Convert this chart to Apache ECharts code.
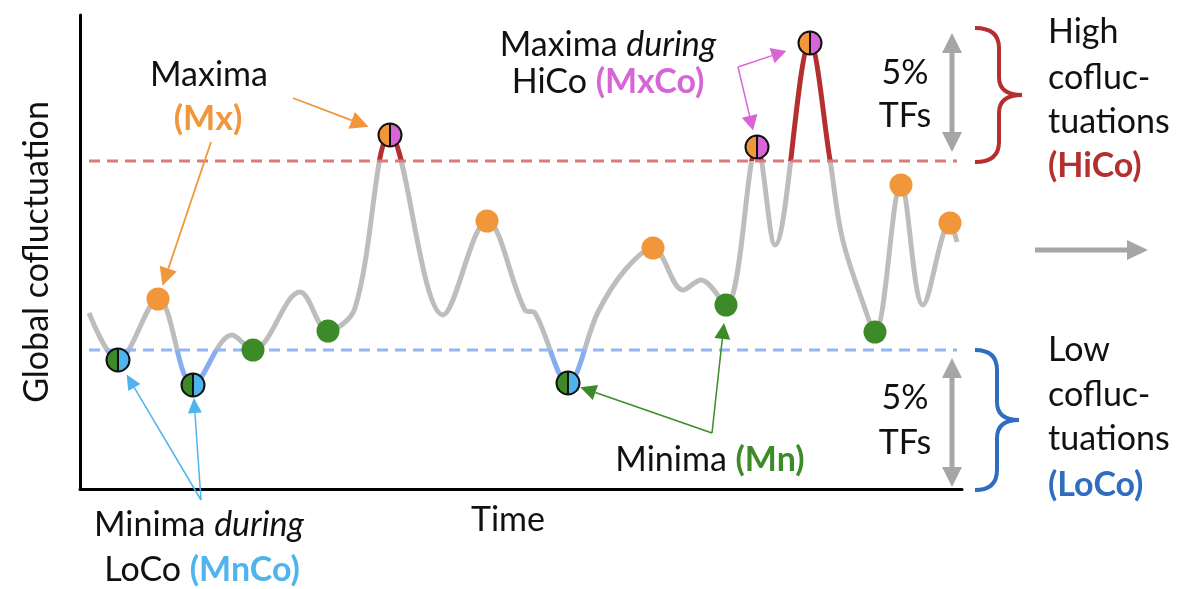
<!DOCTYPE html>
<html><head><meta charset="utf-8">
<script src="https://cdn.jsdelivr.net/npm/echarts@6/dist/echarts.min.js"></script>
<style>html,body{margin:0;padding:0;background:#fff}#c{width:1177px;height:589px}</style>
</head><body><div id="c"></div>
<script>
// ---- data (arbitrary units) ----
const time = [11,40,80,115,154,175,222,250,277,312,365,409,447,457,490,520,547,575,605,623,648,679,697,732,752,764,785,797,823,845,872,879];
const cofluctuation = [175,128,189,103,153,138,196,157,180,353,173,267,178,175,105,176,218,240,198,208,183,341,243,445,328,251,185,156,303,183,265,246];
const maximaIdx = [2,11,17,28,30];        // Mx
const maximaHiCoIdx = [9,21,23];          // MxCo
const minimaIdx = [5,7,20,27];            // Mn
const minimaLoCoIdx = [1,3,14];           // MnCo
const highThreshold = [327];
const lowThreshold = [138];

const ORANGE = '#f1963b', PINK = '#d865d6', GREEN = '#3d8b28', LBLUE = '#4fb4ee';
const FONT = 'Lato, "Open Sans", sans-serif';

const chart = echarts.init(document.getElementById('c'), null, {renderer: 'canvas'});
const pts = idx => idx.map(i => [time[i], cofluctuation[i]]);
const halfRender = (lc, rc) => (params, api) => {
  const p = api.coord([api.value(0), api.value(1)]);
  const r = 11.5;
  return {type: 'group', children: [
    {type: 'sector', shape: {cx: p[0], cy: p[1], r: r, startAngle: Math.PI/2, endAngle: Math.PI*3/2}, style: {fill: lc}},
    {type: 'sector', shape: {cx: p[0], cy: p[1], r: r, startAngle: -Math.PI/2, endAngle: Math.PI/2}, style: {fill: rc}},
    {type: 'circle', shape: {cx: p[0], cy: p[1], r: r}, style: {fill: null, stroke: '#111', lineWidth: 2}},
    {type: 'line', shape: {x1: p[0], y1: p[1]-r, x2: p[0], y2: p[1]+r}, style: {stroke: '#111', lineWidth: 2}}
  ]};
};
const last = time.length - 1;

chart.setOption({
  animation: false,
  grid: {left: 80, right: 215, top: 15, bottom: 100},
  xAxis: {type: 'value', min: 2, max: 884, axisLine: {onZero: false, lineStyle: {color: '#000', width: 3}},
          axisTick: {show: false}, axisLabel: {show: false}, splitLine: {show: false}},
  yAxis: {type: 'value', min: -1, max: 473, axisLine: {show: true, onZero: false, lineStyle: {color: '#000', width: 3}},
          axisTick: {show: false}, axisLabel: {show: false}, splitLine: {show: false}},
  visualMap: {show: false, type: 'piecewise', seriesIndex: 0, dimension: 1,
    pieces: [{lt: lowThreshold[0], color: '#86adf0'}, {gte: lowThreshold[0], lte: highThreshold[0], color: '#bdbdbd'}, {gt: highThreshold[0], color: '#b3302e'}]},
  series: [
    {type: 'line', data: time.map((t, i) => [t, cofluctuation[i]]), smooth: 0.35, showSymbol: false, silent: true,
     lineStyle: {width: 5}, z: 2},
    {type: 'line', data: [[time[0], highThreshold[0]], [time[last], highThreshold[0]]], showSymbol: false, silent: true,
     lineStyle: {color: '#d97a7d', width: 3, type: [11, 7]}, z: 3},
    {type: 'line', data: [[time[0], lowThreshold[0]], [time[last], lowThreshold[0]]], showSymbol: false, silent: true,
     lineStyle: {color: '#93b6f3', width: 3, type: [11, 7]}, z: 3},
    {type: 'scatter', data: pts(maximaIdx), symbolSize: 23, itemStyle: {color: ORANGE, opacity: 1}, z: 5},
    {type: 'scatter', data: pts(minimaIdx), symbolSize: 23, itemStyle: {color: GREEN, opacity: 1}, z: 5},
    {type: 'custom', data: pts(maximaHiCoIdx), renderItem: halfRender(ORANGE, PINK), z: 6},
    {type: 'custom', data: pts(minimaLoCoIdx), renderItem: halfRender(GREEN, LBLUE), z: 6}
  ]
});

// ---- annotations ----
const P = i => chart.convertToPixel({gridIndex: 0}, [time[i], cofluctuation[i]]);
function arrow(tail, target, gap, color, lw, hl, hw) {
  const dx = target[0]-tail[0], dy = target[1]-tail[1], L = Math.hypot(dx, dy);
  const ux = dx/L, uy = dy/L;
  const tip = [target[0]-ux*gap, target[1]-uy*gap];
  const base = [tip[0]-ux*hl, tip[1]-uy*hl];
  return [
    {type: 'line', shape: {x1: tail[0], y1: tail[1], x2: base[0], y2: base[1]}, style: {stroke: color, lineWidth: lw}},
    {type: 'polygon', shape: {points: [tip, [base[0]-uy*hw, base[1]+ux*hw], [base[0]+uy*hw, base[1]-ux*hw]]}, style: {fill: color}}
  ];
}
function txt(x, y, text, opts) {
  opts = opts || {};
  return {type: 'text', x: x, y: y, rotation: opts.rotation || 0, style: Object.assign({
    text: text, fontFamily: FONT, fontSize: 34, fill: '#111',
    align: opts.align || 'center', verticalAlign: 'middle', textAlign: opts.align || 'center', textVerticalAlign: 'middle'
  }, opts.style || {})};
}
const rich = {
  i: {fontStyle: 'italic', fontFamily: FONT, fontSize: 34, fill: '#111'},
  o: {fontWeight: 'bold', fontFamily: FONT, fontSize: 34, fill: ORANGE},
  p: {fontWeight: 'bold', fontFamily: FONT, fontSize: 34, fill: PINK},
  g: {fontWeight: 'bold', fontFamily: FONT, fontSize: 34, fill: GREEN},
  b: {fontWeight: 'bold', fontFamily: FONT, fontSize: 34, fill: LBLUE},
  r: {fontWeight: 'bold', fontFamily: FONT, fontSize: 34, fill: '#b3302e'},
  k: {fontWeight: 'bold', fontFamily: FONT, fontSize: 34, fill: '#2e6dbf'},
  n: {fontFamily: FONT, fontSize: 34, fill: '#111'}
};
function rtxt(x, y, text, align) {
  return {type: 'text', x: x, y: y, style: {text: text, rich: rich, fontFamily: FONT, fontSize: 34, fill: '#111',
    align: align || 'center', verticalAlign: 'middle', textAlign: align || 'center', textVerticalAlign: 'middle'}};
}
function brace(x0, xm, xt, yTop, yMid, yBot, color) {
  const s = {stroke: color, lineWidth: 4, fill: null};
  return [
    {type: 'bezierCurve', shape: {x1: x0, y1: yTop, cpx1: xm, cpy1: yTop, x2: xm, y2: yTop+20}, style: s},
    {type: 'line', shape: {x1: xm, y1: yTop+20, x2: xm, y2: yMid-18}, style: s},
    {type: 'bezierCurve', shape: {x1: xm, y1: yMid-18, cpx1: xm, cpy1: yMid, x2: xt, y2: yMid}, style: s},
    {type: 'bezierCurve', shape: {x1: xt, y1: yMid, cpx1: xm, cpy1: yMid, x2: xm, y2: yMid+18}, style: s},
    {type: 'line', shape: {x1: xm, y1: yMid+18, x2: xm, y2: yBot-20}, style: s},
    {type: 'bezierCurve', shape: {x1: xm, y1: yBot-20, cpx1: xm, cpy1: yBot, x2: x0, y2: yBot}, style: s}
  ];
}
function dbl(x, y1, y2) {
  const c = '#a6a6a6';
  return [
    {type: 'line', shape: {x1: x, y1: y1+18, x2: x, y2: y2-18}, style: {stroke: c, lineWidth: 5}},
    {type: 'polygon', shape: {points: [[x, y1], [x-10, y1+20], [x+10, y1+20]]}, style: {fill: c}},
    {type: 'polygon', shape: {points: [[x, y2], [x-10, y2-20], [x+10, y2-20]]}, style: {fill: c}}
  ];
}

const g = [];
// Maxima (Mx)
g.push(txt(209, 75, 'Maxima'));
g.push(txt(208, 119, '(Mx)', {style: {fill: ORANGE, fontWeight: 'bold'}}));
g.push(...arrow([293, 98], P(maximaHiCoIdx[0]), 23, ORANGE, 1.8, 18, 9));
g.push(...arrow([211, 142], P(maximaIdx[0]), 14, ORANGE, 1.8, 18, 9));
// Maxima during HiCo (MxCo)
g.push(rtxt(608, 45, '{n|Maxima }{i|during}'));
g.push(rtxt(608, 82, '{n|HiCo }{p|(MxCo)}'));
g.push(...arrow([738, 67], P(maximaHiCoIdx[2]), 25, PINK, 1.5, 15, 8));
g.push(...arrow([738, 67], P(maximaHiCoIdx[1]), 17, PINK, 1.5, 15, 8));
// Minima (Mn)
g.push(rtxt(710, 460, '{n|Minima }{g|(Mn)}'));
g.push(...arrow([712, 433], P(minimaLoCoIdx[2]), 13, GREEN, 1.5, 16, 8));
g.push(...arrow([712, 433], P(minimaIdx[2]), 18, GREEN, 1.5, 16, 8));
// Minima during LoCo (MnCo)
g.push(rtxt(199, 525, '{n|Minima }{i|during}'));
g.push(rtxt(202, 570, '{n|LoCo }{b|(MnCo)}'));
g.push(...arrow([201, 500], P(minimaLoCoIdx[0]), 17, LBLUE, 1.5, 15, 7));
g.push(...arrow([201, 500], P(minimaLoCoIdx[1]), 13, LBLUE, 1.5, 15, 7));
// axis titles
g.push(txt(508, 520, 'Time'));
g.push(txt(37, 252, 'Global cofluctuation', {rotation: Math.PI/2}));
// 5% TFs
g.push(txt(905, 73, '5%'), txt(905, 116, 'TFs'), txt(905, 398, '5%'), txt(905, 443, 'TFs'));
g.push(...dbl(952, 33, 152), ...dbl(952, 358, 487));
// braces
g.push(...brace(975, 999, 1022, 28, 95, 162, '#b3302e'));
g.push(...brace(975, 997, 1019, 350, 420, 490, '#2e6dbf'));
// right labels
g.push(txt(1048, 32, 'High', {align: 'left'}), txt(1048, 78, 'cofluc-', {align: 'left'}), txt(1048, 122, 'tuations', {align: 'left'}));
g.push(txt(1048, 166, '(HiCo)', {align: 'left', style: {fill: '#b3302e', fontWeight: 'bold'}}));
g.push(txt(1048, 350, 'Low', {align: 'left'}), txt(1048, 395, 'cofluc-', {align: 'left'}), txt(1048, 439, 'tuations', {align: 'left'}));
g.push(txt(1048, 485, '(LoCo)', {align: 'left', style: {fill: '#2e6dbf', fontWeight: 'bold'}}));
// grey horizontal arrow
g.push({type: 'line', shape: {x1: 1035, y1: 250, x2: 1128, y2: 250}, style: {stroke: '#a6a6a6', lineWidth: 5}});
g.push({type: 'polygon', shape: {points: [[1148, 250], [1127, 240], [1127, 260]]}, style: {fill: '#a6a6a6'}});

chart.setOption({graphic: g.map(e => Object.assign({z: 100, silent: true}, e))});
</script></body></html>
